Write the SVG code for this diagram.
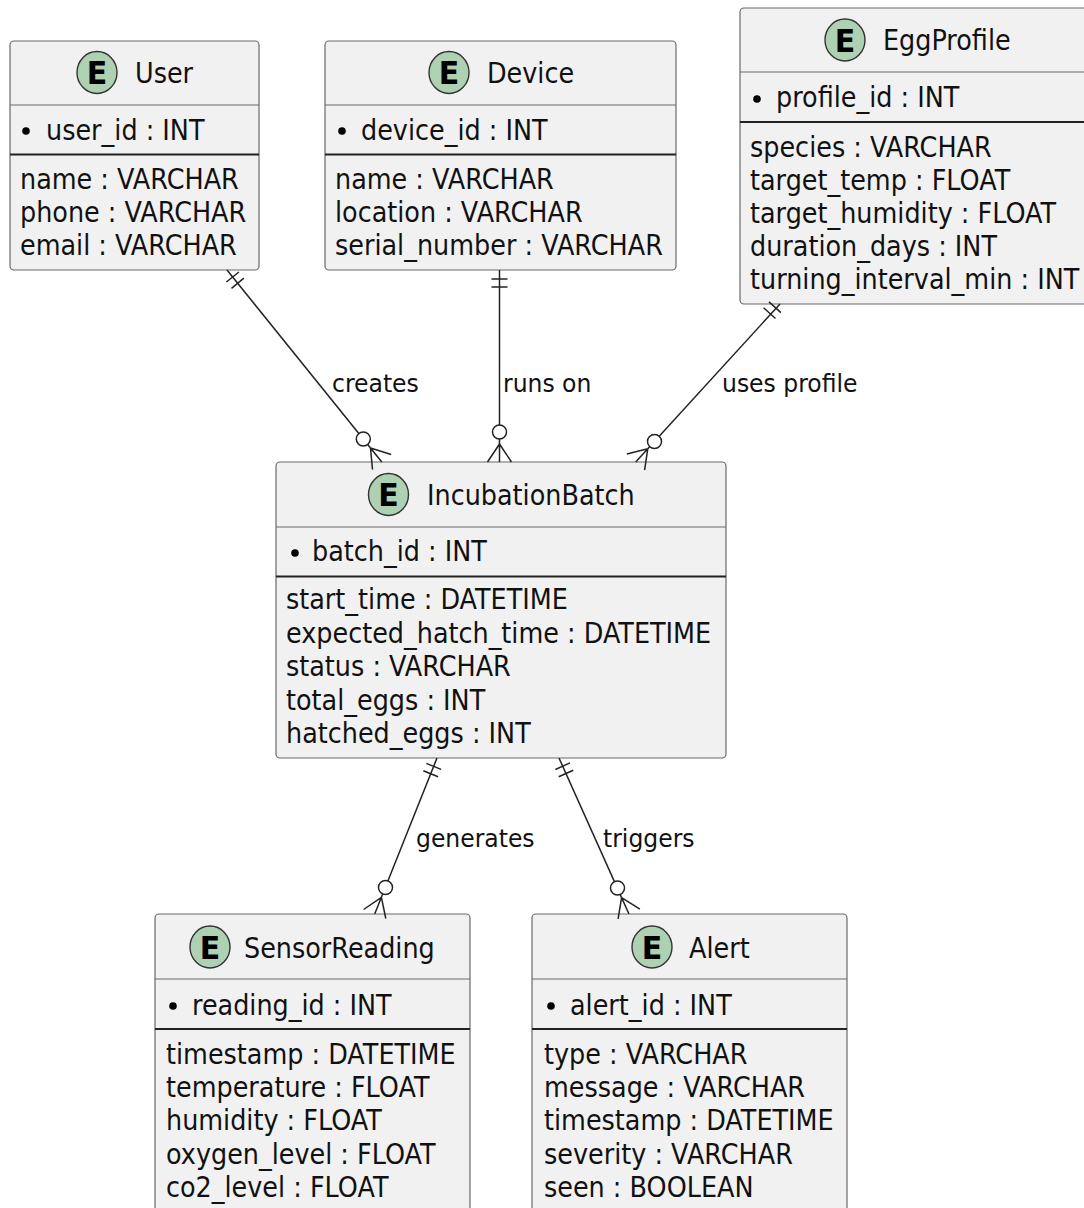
<svg xmlns="http://www.w3.org/2000/svg" width="1084" height="1208" viewBox="0 0 1084 1208">
<style>
.box{fill:#F1F1F1;stroke:#6a6a6a;stroke-width:1.2}
.hl{stroke:#6a6a6a;stroke-width:1.2}
.tl{stroke:#222;stroke-width:1.8}
.spot{fill:#ADD1B2;stroke:#333;stroke-width:1.4}
.sl{font-family:"DejaVu Sans",sans-serif;font-size:30px;font-weight:bold;fill:#000;text-anchor:middle}
.t{font-family:"DejaVu Sans",sans-serif;font-size:25.5px;fill:#111}
.lab{font-family:"DejaVu Sans",sans-serif;font-size:23.5px;fill:#111}
.ln{fill:none;stroke:#222;stroke-width:1.5}
.o{fill:#fff;stroke:#222;stroke-width:1.5}
</style>
<rect width="1084" height="1208" fill="#fff"/>

<g id="User">
<rect class="box" x="10" y="41" width="249" height="229" rx="4"/>
<line class="hl" x1="10" y1="105" x2="259" y2="105"/>
<ellipse class="spot" cx="97" cy="72.5" rx="20" ry="21"/>
<text class="sl" transform="translate(97,84) scale(1,1.08)">E</text>
<text class="t" transform="translate(135,83) scale(1,1.08)">User</text>
<circle cx="26" cy="131" r="3.8" fill="#000"/>
<text class="t" transform="translate(46,140) scale(1,1.08)">user_id : INT</text>
<line class="tl" x1="10" y1="154.5" x2="259" y2="154.5"/>
<text class="t" transform="translate(20,189) scale(1,1.08)">name : VARCHAR</text>
<text class="t" transform="translate(20,222) scale(1,1.08)">phone : VARCHAR</text>
<text class="t" transform="translate(20,255) scale(1,1.08)">email : VARCHAR</text>
</g>

<g id="Device">
<rect class="box" x="325" y="41" width="351" height="229" rx="4"/>
<line class="hl" x1="325" y1="105" x2="676" y2="105"/>
<ellipse class="spot" cx="449" cy="72.5" rx="20" ry="21"/>
<text class="sl" transform="translate(449,84) scale(1,1.08)">E</text>
<text class="t" transform="translate(487,83) scale(1,1.08)">Device</text>
<circle cx="342" cy="131" r="3.8" fill="#000"/>
<text class="t" transform="translate(361,140) scale(1,1.08)">device_id : INT</text>
<line class="tl" x1="325" y1="154.5" x2="676" y2="154.5"/>
<text class="t" transform="translate(335,189) scale(1,1.08)">name : VARCHAR</text>
<text class="t" transform="translate(335,222) scale(1,1.08)">location : VARCHAR</text>
<text class="t" transform="translate(335,255) scale(1,1.08)">serial_number : VARCHAR</text>
</g>

<g id="EggProfile">
<rect class="box" x="740" y="8" width="360" height="296" rx="4"/>
<line class="hl" x1="740" y1="72" x2="1100" y2="72"/>
<ellipse class="spot" cx="845" cy="40" rx="20" ry="21"/>
<text class="sl" transform="translate(845,51.5) scale(1,1.08)">E</text>
<text class="t" transform="translate(883,50) scale(1,1.08)">EggProfile</text>
<circle cx="757" cy="99" r="3.8" fill="#000"/>
<text class="t" transform="translate(776,107) scale(1,1.08)">profile_id : INT</text>
<line class="tl" x1="740" y1="122" x2="1100" y2="122"/>
<text class="t" transform="translate(750,157) scale(1,1.08)">species : VARCHAR</text>
<text class="t" transform="translate(750,190) scale(1,1.08)">target_temp : FLOAT</text>
<text class="t" transform="translate(750,223) scale(1,1.08)">target_humidity : FLOAT</text>
<text class="t" transform="translate(750,256) scale(1,1.08)">duration_days : INT</text>
<text class="t" transform="translate(750,289) scale(1,1.08)">turning_interval_min : INT</text>
</g>

<g id="IncubationBatch">
<rect class="box" x="276" y="462" width="450" height="296" rx="4"/>
<line class="hl" x1="276" y1="527" x2="726" y2="527"/>
<ellipse class="spot" cx="388.5" cy="494.5" rx="20" ry="21"/>
<text class="sl" transform="translate(388.5,506) scale(1,1.08)">E</text>
<text class="t" transform="translate(427,505) scale(1,1.08)">IncubationBatch</text>
<circle cx="295" cy="553" r="3.8" fill="#000"/>
<text class="t" transform="translate(312,561) scale(1,1.08)">batch_id : INT</text>
<line class="tl" x1="276" y1="576.5" x2="726" y2="576.5"/>
<text class="t" transform="translate(286,609) scale(1,1.08)">start_time : DATETIME</text>
<text class="t" transform="translate(286,642.5) scale(1,1.08)">expected_hatch_time : DATETIME</text>
<text class="t" transform="translate(286,676) scale(1,1.08)">status : VARCHAR</text>
<text class="t" transform="translate(286,709.5) scale(1,1.08)">total_eggs : INT</text>
<text class="t" transform="translate(286,743) scale(1,1.08)">hatched_eggs : INT</text>
</g>

<g id="SensorReading">
<rect class="box" x="155" y="914" width="315" height="310" rx="4"/>
<line class="hl" x1="155" y1="979" x2="470" y2="979"/>
<ellipse class="spot" cx="210" cy="947" rx="20" ry="21"/>
<text class="sl" transform="translate(210,958.5) scale(1,1.08)">E</text>
<text class="t" transform="translate(244,958) scale(1,1.08)">SensorReading</text>
<circle cx="173" cy="1006" r="3.8" fill="#000"/>
<text class="t" transform="translate(192,1015) scale(1,1.08)">reading_id : INT</text>
<line class="tl" x1="155" y1="1029" x2="470" y2="1029"/>
<text class="t" transform="translate(166,1064) scale(1,1.08)">timestamp : DATETIME</text>
<text class="t" transform="translate(166,1097) scale(1,1.08)">temperature : FLOAT</text>
<text class="t" transform="translate(166,1130) scale(1,1.08)">humidity : FLOAT</text>
<text class="t" transform="translate(166,1164) scale(1,1.08)">oxygen_level : FLOAT</text>
<text class="t" transform="translate(166,1197) scale(1,1.08)">co2_level : FLOAT</text>
</g>

<g id="Alert">
<rect class="box" x="532" y="914" width="315" height="310" rx="4"/>
<line class="hl" x1="532" y1="979" x2="847" y2="979"/>
<ellipse class="spot" cx="652" cy="947" rx="20" ry="21"/>
<text class="sl" transform="translate(652,958.5) scale(1,1.08)">E</text>
<text class="t" transform="translate(689,958) scale(1,1.08)">Alert</text>
<circle cx="551" cy="1006" r="3.8" fill="#000"/>
<text class="t" transform="translate(570,1015) scale(1,1.08)">alert_id : INT</text>
<line class="tl" x1="532" y1="1029" x2="847" y2="1029"/>
<text class="t" transform="translate(544,1064) scale(1,1.08)">type : VARCHAR</text>
<text class="t" transform="translate(544,1097) scale(1,1.08)">message : VARCHAR</text>
<text class="t" transform="translate(544,1130) scale(1,1.08)">timestamp : DATETIME</text>
<text class="t" transform="translate(544,1164) scale(1,1.08)">severity : VARCHAR</text>
<text class="t" transform="translate(544,1197) scale(1,1.08)">seen : BOOLEAN</text>
</g>

<g id="connectors">
<!-- creates -->
<path class="ln" d="M227,270 L370.5,448"/>
<path class="ln" d="M238.9,272 L226.4,282 M243.9,278.2 L231.5,288.3"/>
<path class="ln" d="M370.5,448 L381.8,462 M370.5,448 L391.2,454.5 M370.5,448 L372.5,469.5"/>
<circle class="o" cx="363.3" cy="439" r="7"/>
<text class="lab" transform="translate(332,392) scale(1,1.08)">creates</text>
<!-- runs on -->
<path class="ln" d="M499.5,270 L499.5,444"/>
<path class="ln" d="M491.5,279 L507.5,279 M491.5,287 L507.5,287"/>
<path class="ln" d="M499.5,444 L499.5,462 M499.5,444 L487.5,462 M499.5,444 L511.5,462"/>
<circle class="o" cx="499.5" cy="432" r="7"/>
<text class="lab" transform="translate(503,392) scale(1,1.08)">runs on</text>
<!-- uses profile -->
<path class="ln" d="M780,304 L647.8,448.7"/>
<path class="ln" d="M780.9,312.6 L769,301.9 M775.5,318.5 L763.6,307.8"/>
<path class="ln" d="M647.8,448.7 L635.7,462 M647.8,448.7 L644.6,470.1 M647.8,448.7 L626.8,453.9"/>
<circle class="o" cx="654.5" cy="441.5" r="7"/>
<text class="lab" transform="translate(722,392) scale(1,1.08)">uses profile</text>
<!-- generates -->
<path class="ln" d="M437,758 L381.4,897.3"/>
<path class="ln" d="M441.1,769.4 L426.3,763.4 M438.1,776.8 L423.3,770.8"/>
<path class="ln" d="M381.4,897.3 L374.7,914 M381.4,897.3 L385.8,918.5 M381.4,897.3 L363.6,909.5"/>
<circle class="o" cx="385.5" cy="887.5" r="7"/>
<text class="lab" transform="translate(416,846.5) scale(1,1.08)">generates</text>
<!-- triggers -->
<path class="ln" d="M559,758 L621.6,897.6"/>
<path class="ln" d="M570,762.9 L555.4,769.5 M573.3,770.2 L558.7,776.8"/>
<path class="ln" d="M621.6,897.6 L629,914 M621.6,897.6 L639.9,909.1 M621.6,897.6 L618.1,918.9"/>
<circle class="o" cx="617.5" cy="888" r="7"/>
<text class="lab" transform="translate(603,846.5) scale(1,1.08)">triggers</text>
</g>
</svg>
